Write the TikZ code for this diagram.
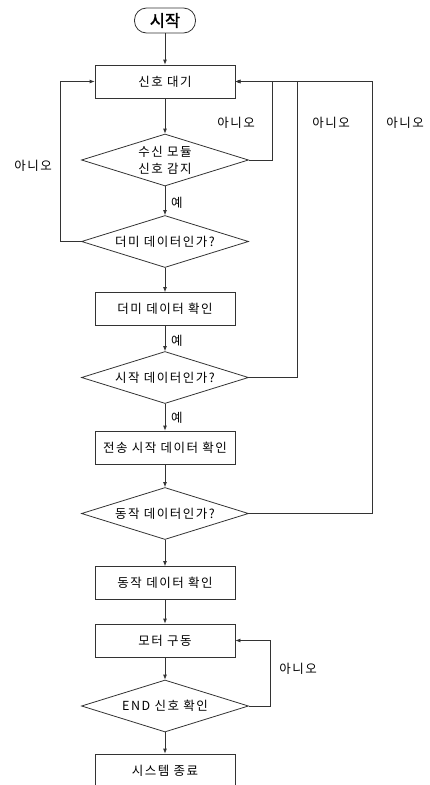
\documentclass[tikz,border=0pt]{standalone}
\usepackage{fontspec}
\newfontfamily\kr[LetterSpace=12]{Noto Sans CJK KR}
\newfontfamily\krb[FakeBold=1.5]{Noto Sans CJK KR}
\usetikzlibrary{shapes.geometric,arrows.meta}
\tikzset{
  line/.style={draw=black!80, line width=0.8pt},
  arr/.style={line, -{Latex[length=5pt,width=4pt]}},
  txt/.style={font=\kr\fontsize{12.5}{17}\selectfont},
  procbox/.style={rectangle, line, txt, minimum width=140pt, minimum height=33pt, inner sep=0pt},
  decision/.style={diamond, line, txt, minimum width=167pt, minimum height=52pt, inner sep=0pt, aspect=3.2, align=center},
  lbl/.style={txt, inner sep=0pt},
  terminal/.style={rectangle, rounded corners=12pt, line, minimum width=61pt, minimum height=25pt, inner sep=0pt, font=\krb\fontsize{16.5}{18}\selectfont},
}
\begin{document}
\begin{tikzpicture}[x=1pt,y=-1pt]
\useasboundingbox (0,0) rectangle (430,785);
\node[terminal] (start) at (165,20.5) {시작};
\node[procbox] (b1) at (165,81.5) {신호 대기};
\node[decision] (d1) at (165,160) {수신 모듈\\신호 감지};
\node[decision] (d2) at (165,241.5) {더미 데이터인가?};
\node[procbox] (b2) at (165,309) {더미 데이터 확인};
\node[decision] (d3) at (165,377.5) {시작 데이터인가?};
\node[procbox] (b3) at (165,447.5) {전송 시작 데이터 확인};
\node[decision] (d4) at (165,513.5) {동작 데이터인가?};
\node[procbox] (b4) at (165,583) {동작 데이터 확인};
\node[procbox] (b5) at (165,640.5) {모터 구동};
\node[decision] (d5) at (165,706) {END 신호 확인};
\node[procbox, minimum height=34pt] (b6) at (165,771) {시스템 종료};

\coordinate (r1) at (272,160);
\coordinate (r2) at (297,377.5);
\coordinate (r3) at (372,513.5);
\coordinate (l1) at (60,241.5);
\coordinate (r5) at (270,706);

\draw[arr] (start) -- (b1);
\draw[arr] (b1) -- (d1);
\draw[arr] (d1) -- (d2);
\draw[arr] (d2) -- (b2);
\draw[arr] (b2) -- (d3);
\draw[arr] (d3) -- (b3);
\draw[arr] (b3) -- (d4);
\draw[arr] (d4) -- (b4);
\draw[arr] (b4) -- (b5);
\draw[arr] (b5) -- (d5);
\draw[arr] (d5) -- (b6);

\draw[arr] (d1.east) -- (r1) |- (b1.east);
\draw[arr] (d3.east) -- (r2) |- (b1.east);
\draw[arr] (d4.east) -- (r3) |- (b1.east);
\draw[arr] (d2.west) -- (l1) |- (b1.west);
\draw[arr] (d5.east) -- (r5) |- (b5.east);

\node[lbl] (n1) at (236,123) {아니오};
\node[lbl] (n2) at (331,123) {아니오};
\node[lbl] (n3) at (405,123) {아니오};
\node[lbl] (n4) at (33,166) {아니오};
\node[lbl] (n5) at (298,669) {아니오};
\node[lbl, anchor=west] (y1) at (171,203) {예};
\node[lbl, anchor=west] (y2) at (171,341) {예};
\node[lbl, anchor=west] (y3) at (171,418) {예};
\end{tikzpicture}
\end{document}
